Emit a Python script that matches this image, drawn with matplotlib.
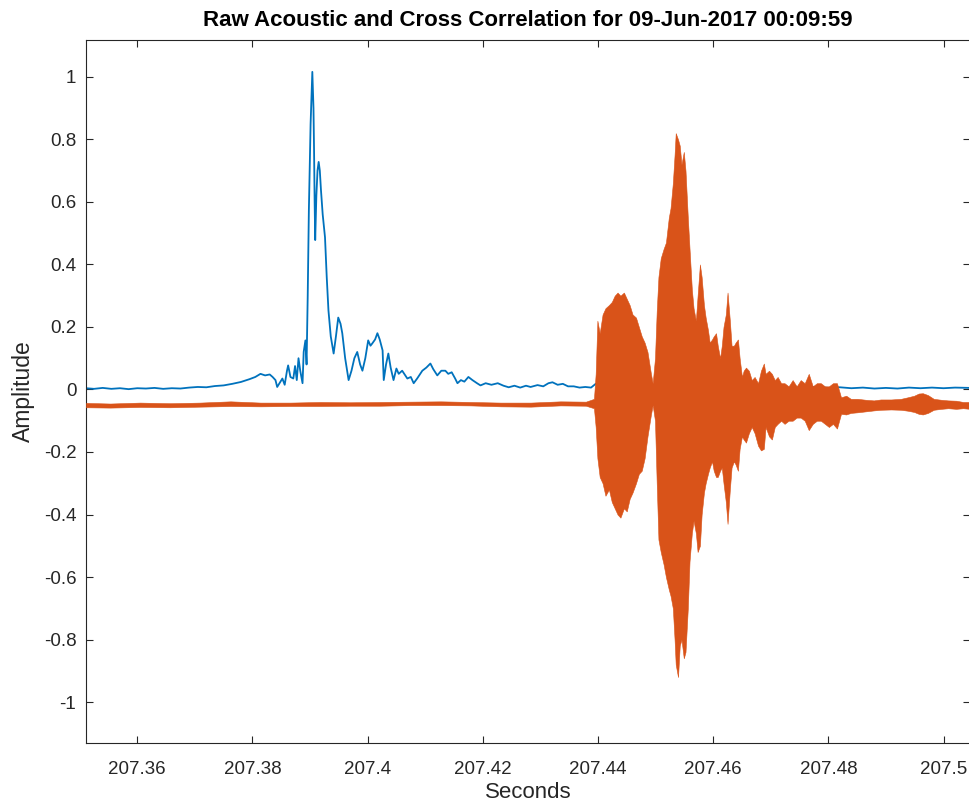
import matplotlib
matplotlib.use("Agg")
import matplotlib.pyplot as plt
from matplotlib.ticker import FuncFormatter

plt.rcParams['font.family'] = ['Liberation Sans', 'DejaVu Sans']

# cross correlation (blue)
xcorr_time = [
    207.3511, 207.3525, 207.3540, 207.3555, 207.3570, 207.3585, 207.3600, 207.3615, 207.3630, 207.3645,
    207.3660, 207.3675, 207.3690, 207.3705, 207.3720, 207.3735, 207.3750, 207.3765, 207.3780, 207.3795,
    207.3805, 207.3814, 207.3822, 207.3830, 207.3835, 207.3840, 207.3843, 207.3847, 207.3852, 207.3856,
    207.3860, 207.3862, 207.3866, 207.3871, 207.3874, 207.3877, 207.3880, 207.3883, 207.3887, 207.3889,
    207.3892, 207.3894, 207.3896, 207.3898, 207.3901, 207.3904, 207.3906, 207.3907, 207.3908, 207.3909,
    207.3911, 207.3913, 207.3915, 207.3917, 207.3919, 207.3922, 207.3926, 207.3929, 207.3932, 207.3936,
    207.3941, 207.3945, 207.3949, 207.3953, 207.3956, 207.3961, 207.3967, 207.3972, 207.3977, 207.3982,
    207.3987, 207.3991, 207.3996, 207.4001, 207.4005, 207.4008, 207.4013, 207.4017, 207.4021, 207.4026,
    207.4028, 207.4032, 207.4036, 207.4040, 207.4045, 207.4050, 207.4054, 207.4060, 207.4069, 207.4075,
    207.4080, 207.4086, 207.4095, 207.4102, 207.4109, 207.4114, 207.4121, 207.4128, 207.4135, 207.4140,
    207.4146, 207.4152, 207.4156, 207.4162, 207.4168, 207.4175, 207.4182, 207.4190, 207.4196, 207.4205,
    207.4215, 207.4226, 207.4236, 207.4245, 207.4255, 207.4265, 207.4275, 207.4283, 207.4295, 207.4305,
    207.4314, 207.4321, 207.4330, 207.4339, 207.4348, 207.4358, 207.4368, 207.4378, 207.4388, 207.4396,
    207.4405, 207.4420, 207.4450, 207.4500, 207.4550, 207.4600, 207.4640, 207.4660, 207.4680, 207.4700,
    207.4720, 207.4740, 207.4760, 207.4780, 207.4800, 207.4820, 207.4840, 207.4860, 207.4880, 207.4900,
    207.4920, 207.4940, 207.4960, 207.4980, 207.5000, 207.5020, 207.5046,
]
xcorr_amp = [
    0.004, 0.002, 0.005, 0.002, 0.004, 0.001, 0.004, 0.003, 0.005, 0.002,
    0.004, 0.003, 0.006, 0.008, 0.007, 0.011, 0.013, 0.018, 0.024, 0.033,
    0.040, 0.050, 0.045, 0.048, 0.040, 0.030, 0.008, 0.020, 0.035, 0.015,
    0.060, 0.077, 0.040, 0.035, 0.075, 0.030, 0.100, 0.060, 0.020, 0.120,
    0.157, 0.080, 0.300, 0.574, 0.850, 1.016, 0.900, 0.766, 0.600, 0.478,
    0.620, 0.700, 0.728, 0.700, 0.638, 0.560, 0.487, 0.360, 0.253, 0.170,
    0.115, 0.170, 0.230, 0.210, 0.180, 0.100, 0.030, 0.060, 0.100, 0.120,
    0.080, 0.060, 0.100, 0.157, 0.140, 0.147, 0.160, 0.180, 0.160, 0.125,
    0.030, 0.080, 0.115, 0.070, 0.030, 0.067, 0.050, 0.060, 0.035, 0.040,
    0.020, 0.035, 0.060, 0.070, 0.083, 0.065, 0.045, 0.060, 0.060, 0.050,
    0.055, 0.035, 0.020, 0.030, 0.025, 0.040, 0.030, 0.020, 0.013, 0.020,
    0.015, 0.020, 0.012, 0.007, 0.012, 0.006, 0.012, 0.008, 0.014, 0.010,
    0.020, 0.023, 0.015, 0.018, 0.010, 0.010, 0.006, 0.008, 0.006, 0.018,
    0.012, 0.010, 0.005, 0.010, 0.008, 0.012, 0.006, 0.004, 0.008, 0.006,
    0.004, 0.007, 0.005, 0.008, 0.005, 0.007, 0.004, 0.006, 0.003, 0.005,
    0.003, 0.006, 0.004, 0.006, 0.004, 0.006, 0.005,
]

# raw acoustic (orange), upper / lower envelope
acoustic_time = [
    207.3511, 207.3553, 207.3605, 207.3657, 207.3709, 207.3762, 207.3814, 207.3866, 207.3918, 207.3970,
    207.4022, 207.4074, 207.4127, 207.4179, 207.4231, 207.4283, 207.4335, 207.4379, 207.4393,
    207.4396, 207.4399, 207.4403, 207.4408, 207.4413, 207.4419, 207.4424, 207.4429, 207.4434, 207.4439,
    207.4445, 207.4450, 207.4455, 207.4460, 207.4466, 207.4471, 207.4476, 207.4481, 207.4486, 207.4492,
    207.4495, 207.4499, 207.4502, 207.4505, 207.4509, 207.4514, 207.4518, 207.4523, 207.4526, 207.4530,
    207.4533, 207.4535, 207.4539, 207.4542, 207.4545, 207.4549, 207.4552, 207.4556, 207.4559, 207.4563,
    207.4566, 207.4570, 207.4573, 207.4577, 207.4580, 207.4584, 207.4587, 207.4591, 207.4594, 207.4598,
    207.4601, 207.4605, 207.4608, 207.4612, 207.4615, 207.4618, 207.4622, 207.4625, 207.4629, 207.4632,
    207.4636, 207.4639, 207.4643, 207.4646, 207.4650, 207.4653, 207.4657, 207.4662, 207.4667, 207.4672,
    207.4678, 207.4683, 207.4688, 207.4691, 207.4697, 207.4702, 207.4707, 207.4712, 207.4718, 207.4724,
    207.4731, 207.4738, 207.4745, 207.4752, 207.4759, 207.4766, 207.4773, 207.4780, 207.4787, 207.4794,
    207.4801, 207.4808, 207.4815, 207.4822, 207.4831, 207.4839, 207.4851, 207.4865, 207.4879, 207.4891,
    207.4909, 207.4926, 207.4938, 207.4949, 207.4957, 207.4964, 207.4973, 207.4983, 207.4996, 207.5008,
    207.5022, 207.5034, 207.5046,
]
acoustic_upper = [
    -0.043, -0.045, -0.042, -0.044, -0.042, -0.038, -0.042, -0.042, -0.040, -0.041,
    -0.040, -0.039, -0.038, -0.040, -0.042, -0.042, -0.038, -0.039, -0.030,
    0.05, 0.22, 0.18, 0.24, 0.26, 0.27, 0.28, 0.30, 0.31, 0.30,
    0.31, 0.29, 0.27, 0.24, 0.23, 0.20, 0.17, 0.15, 0.12, 0.05,
    0.02, 0.10, 0.25, 0.36, 0.42, 0.45, 0.47, 0.55, 0.58, 0.66,
    0.75, 0.82, 0.80, 0.78, 0.72, 0.76, 0.70, 0.55, 0.45, 0.32,
    0.26, 0.22, 0.30, 0.40, 0.36, 0.27, 0.23, 0.19, 0.15, 0.16,
    0.17, 0.18, 0.14, 0.10, 0.14, 0.20, 0.24, 0.31, 0.22, 0.14,
    0.14, 0.15, 0.16, 0.10, 0.04, 0.06, 0.07, 0.06, 0.03, 0.04,
    0.02, 0.06, 0.083, 0.05, 0.06, 0.05, 0.03, 0.04, 0.02, 0.02,
    0.01, 0.03, 0.01, 0.03, 0.02, 0.05, 0.01, 0.02, 0.02, 0.01,
    0.01, 0.02, 0.02, -0.025, -0.02, -0.03, -0.03, -0.033, -0.035, -0.032,
    -0.032, -0.03, -0.025, -0.02, -0.013, -0.012, -0.018, -0.03, -0.033, -0.035,
    -0.036, -0.04, -0.04,
]
acoustic_lower = [
    -0.057, -0.058, -0.056, -0.057, -0.055, -0.053, -0.054, -0.053, -0.053, -0.052,
    -0.052, -0.050, -0.050, -0.051, -0.054, -0.055, -0.051, -0.052, -0.060,
    -0.12, -0.22, -0.28, -0.30, -0.34, -0.32, -0.36, -0.38, -0.40, -0.41,
    -0.38, -0.39, -0.35, -0.33, -0.30, -0.27, -0.26, -0.22, -0.15, -0.08,
    -0.05, -0.10, -0.30, -0.48, -0.52, -0.56, -0.60, -0.64, -0.66, -0.70,
    -0.80, -0.88, -0.92, -0.82, -0.80, -0.86, -0.84, -0.70, -0.55, -0.46,
    -0.42, -0.46, -0.52, -0.50, -0.40, -0.33, -0.30, -0.27, -0.25, -0.23,
    -0.26, -0.28, -0.28, -0.26, -0.25, -0.30, -0.36, -0.43, -0.32, -0.25,
    -0.23, -0.24, -0.26, -0.19, -0.15, -0.16, -0.17, -0.14, -0.12, -0.14,
    -0.18, -0.195, -0.19, -0.12, -0.15, -0.16, -0.12, -0.11, -0.10, -0.11,
    -0.10, -0.10, -0.09, -0.09, -0.10, -0.13, -0.11, -0.10, -0.10, -0.11,
    -0.12, -0.11, -0.125, -0.078, -0.08, -0.075, -0.073, -0.07, -0.067, -0.065,
    -0.064, -0.065, -0.068, -0.072, -0.078, -0.08, -0.075, -0.065, -0.062, -0.06,
    -0.062, -0.06, -0.062,
]

x_ticks = [207.36, 207.38, 207.40, 207.42, 207.44, 207.46, 207.48, 207.50]
y_ticks = [-1, -0.8, -0.6, -0.4, -0.2, 0, 0.2, 0.4, 0.6, 0.8, 1]

blue = "#0072BD"
orange = "#D95319"
ink = "#262626"

fig = plt.figure(figsize=(9.69, 8.08), dpi=100)
ax = fig.add_axes([86 / 969, 65 / 808, 884 / 969, 703 / 808])

ax.plot(xcorr_time, xcorr_amp, color=blue, lw=1.3, zorder=2)
ax.fill_between(acoustic_time, acoustic_lower, acoustic_upper,
                facecolor=orange, edgecolor=orange, lw=0.4, zorder=3)

ax.set_xlim(207.3511, 207.5046)
ax.set_ylim(-1.131, 1.118)
ax.set_xticks(x_ticks)
ax.set_yticks(y_ticks)
fmt = FuncFormatter(lambda v, p: "%g" % round(v, 4))
ax.xaxis.set_major_formatter(fmt)
ax.yaxis.set_major_formatter(fmt)

ax.tick_params(direction="in", length=5, width=0.8, colors=ink,
               labelsize=13.5, top=True, right=True)
ax.tick_params(axis="x", pad=13)
ax.tick_params(axis="y", pad=7)
for s in ax.spines.values():
    s.set_color(ink)
    s.set_linewidth(0.8)

ax.set_title("Raw Acoustic and Cross Correlation for 09-Jun-2017 00:09:59",
             fontsize=16, fontweight="bold", pad=10)
ax.set_xlabel("Seconds", fontsize=16, color=ink, labelpad=3)
ax.set_ylabel("Amplitude", fontsize=16.5, color=ink, labelpad=6)

fig.savefig("out.png", dpi=100, facecolor="white")
